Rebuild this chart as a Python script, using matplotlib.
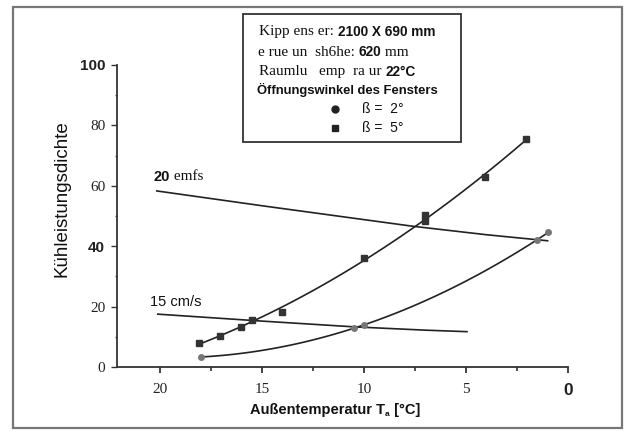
import numpy as np
import matplotlib
matplotlib.use('Agg')
import matplotlib.pyplot as plt
from matplotlib.patches import Rectangle
from matplotlib.ticker import FixedLocator

SERIF = 'Liberation Serif'
SANS = 'Liberation Sans'

# beta = 5 deg (squares)
sq_x = [18.1, 17.05, 16.0, 15.5, 14.0, 10.0, 7.0, 7.0, 4.05, 2.05]
sq_y = [8.0, 10.2, 13.2, 15.6, 18.3, 36.0, 48.5, 50.2, 62.8, 75.6]
# beta = 2 deg (circles)
ci_x = [18.0, 10.5, 10.0, 1.5, 1.0]
ci_y = [3.3, 13.0, 13.8, 42.0, 44.6]
# velocity lines
v20_x = [20.15, 15.0, 10.0, 7.6, 4.0, 1.0]
v20_y = [58.3, 53.4, 48.8, 46.6, 43.8, 41.8]
v15_x = [20.1, 15.0, 10.5, 7.0, 4.95]
v15_y = [17.5, 15.2, 13.3, 12.2, 11.7]

yticks = [0, 20, 40, 60, 80, 100]
xticks = [20, 15, 10, 5, 0]

fig = plt.figure(figsize=(6.27, 4.32), dpi=100)
W, H = 627, 432
ax = fig.add_axes([117 / W, 65 / H, 451 / W, 302 / H])

lc = '#222222'
xs = np.linspace(max(sq_x), min(sq_x), 120)
ax.plot(xs, np.polyval(np.polyfit(sq_x, sq_y, 2), xs), color=lc, lw=1.2)
xc = np.linspace(max(ci_x), min(ci_x) - 0.05, 120)
ax.plot(xc, np.polyval(np.polyfit(ci_x, ci_y, 2), xc), color=lc, lw=1.2)
ax.plot(v20_x, v20_y, color=lc, lw=1.2)
ax.plot(v15_x, v15_y, color=lc, lw=1.2)
ax.plot(sq_x, sq_y, 's', color='#333333', ms=4.5, zorder=3)
ax.plot(ci_x, ci_y, 'o', color='#777777', ms=4, zorder=3)

ax.set_xlim(22.1, 0)
ax.set_ylim(0, 100)
for s in ['top', 'right']:
    ax.spines[s].set_visible(False)
for s in ['left', 'bottom']:
    ax.spines[s].set_color('#333333')
    ax.spines[s].set_linewidth(1.3)
ax.set_xticks(xticks)
ax.set_yticks(yticks)
ax.set_xticklabels([str(t) for t in xticks])
ax.set_yticklabels([str(t) for t in yticks])
ax.xaxis.set_minor_locator(FixedLocator([17.5, 12.5, 7.5, 2.5]))
ax.yaxis.set_minor_locator(FixedLocator([10, 30, 50, 70, 90]))
ax.tick_params(axis='x', which='major', length=4.5, width=1.3, pad=7, colors='#333333')
ax.tick_params(axis='y', which='major', length=4.5, width=1.0, pad=4, colors='#333333')
ax.tick_params(axis='x', which='minor', length=3, width=1.2, colors='#333333')
ax.tick_params(axis='y', which='minor', length=1.5, width=1.0, colors='#555555')
for lbl in ax.get_xticklabels() + ax.get_yticklabels():
    lbl.set_fontfamily(SERIF)
    lbl.set_fontsize(11)
    lbl.set_color('#222222')
    if lbl.get_text() in ('40', '100'):
        lbl.set_fontfamily(SANS)
        lbl.set_fontweight('bold')
        lbl.set_fontsize(11)
for lbl in ax.get_xticklabels():
    if lbl.get_text() == '0':
        lbl.set_fontfamily(SANS)
        lbl.set_fontweight('bold')
        lbl.set_fontsize(12.5)

renderer = fig.canvas.get_renderer()


def pieces(x_px, y_px, parts, center=False):
    # x_px, y_px measured from top-left of the figure
    made = []
    x = x_px
    for s, kw in parts:
        dy = kw.pop('dy', 0)
        t = fig.text(x / W, 1 - (y_px + dy) / H, s, va='center', ha='left',
                     color='#111111', zorder=10, **kw)
        made.append(t)
        x += t.get_window_extent(renderer).width
    if center:
        shift = (x - x_px) / 2
        for t in made:
            px, py = t.get_position()
            t.set_position((px - shift / W, py))
    return made


# outer frame
fig.patches.append(Rectangle((13 / W, 4 / H), 609 / W, 421 / H, transform=fig.transFigure,
                             fill=False, ec='#777777', lw=1.6))

# info box
fig.patches.append(Rectangle((243 / W, (H - 142) / H), 218 / W, 128 / H, transform=fig.transFigure,
                             fc='white', ec='#333333', lw=1.3, zorder=5))
ser = dict(family=SERIF, fontsize=11)
sb = dict(family=SANS, fontsize=9.8, fontweight='bold')
pieces(259, 32, [("Kipp ens er: ", dict(ser)), ("2100 X 690 mm", dict(sb))])
pieces(258, 52.5, [("e rue un  sh6he: ", dict(ser)), ("620", dict(sb)), (" mm", dict(ser))])
pieces(259, 71.5, [("Raumlu   emp  ra ur ", dict(ser)), ("22°C", dict(sb))])
pieces(257, 90, [("Öffnungswinkel des Fensters", dict(family=SANS, fontsize=9.4, fontweight='bold'))])
pieces(362, 109, [("ß =  2°", dict(family=SANS, fontsize=10))])
pieces(362, 128, [("ß =  5°", dict(family=SANS, fontsize=10))])
fig.lines.append(plt.Line2D([335 / W], [1 - 109 / H], marker='o', ms=5, color='#222222',
                            transform=fig.transFigure, zorder=11))
fig.lines.append(plt.Line2D([335 / W], [1 - 128 / H], marker='s', ms=5, color='#222222',
                            transform=fig.transFigure, zorder=11))

# line labels
px, py = ax.transData.transform((20.3, 63))
pieces(px, H - py, [("20", dict(family=SANS, fontsize=10.5, fontweight='bold')),
                    (" emfs", dict(family=SERIF, fontsize=11))])
px, py = ax.transData.transform((20.5, 21.5))
pieces(px, H - py, [("15 cm/s", dict(family=SANS, fontsize=10.5))])

# axis titles
fig.text(62 / W, 1 - 199 / H, "Kühleistungsdichte", rotation=90, va='center', ha='center',
         family=SANS, fontsize=13.5, color='#111111')
pieces(335, 410, [("Außentemperatur T", dict(family=SANS, fontsize=10.5, fontweight='bold')),
                  ("a", dict(family=SANS, fontsize=6, fontweight='bold', dy=4)),
                  (" [°C]", dict(family=SANS, fontsize=10.5, fontweight='bold'))], center=True)

fig.savefig('out.png', dpi=100, facecolor='white')
